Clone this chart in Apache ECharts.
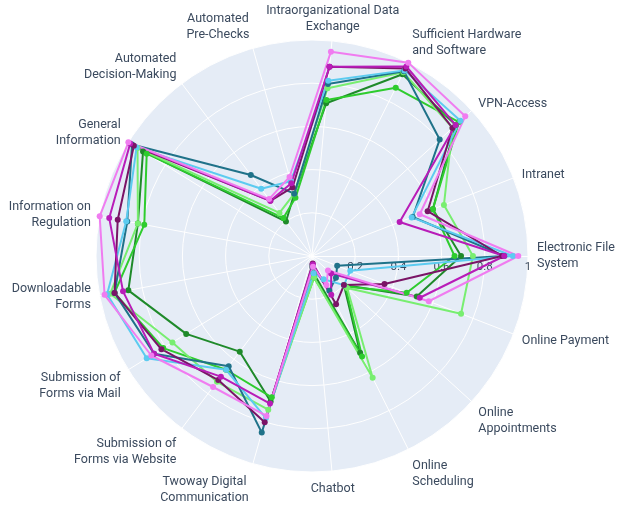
<!DOCTYPE html>
<html><head><meta charset="utf-8">
<script src="https://cdn.jsdelivr.net/npm/echarts@6/dist/echarts.min.js"></script>
<style>html,body{margin:0;padding:0;background:#fff}#c{width:624px;height:508px}</style>
</head><body><div id="c"></div>
<script>
const categories = [
  'Electronic File\nSystem', 'Intranet', 'VPN-Access', 'Sufficient Hardware\nand Software',
  'Intraorganizational Data\nExchange', 'Automated\nPre-Checks', 'Automated\nDecision-Making',
  'General\nInformation', 'Information on\nRegulation', 'Downloadable\nForms',
  'Submission of\nForms via Mail', 'Submission of\nForms via Website', 'Twoway Digital\nCommunication',
  'Chatbot', 'Online\nScheduling', 'Online\nAppointments', 'Online Payment'
];
const radialTicks = [0, 0.2, 0.4, 0.6, 0.8, 1];

const darkGreen  = [0.69, 0.60, 0.90, 0.94, 0.71, 0.30, 0.20, 0.92, 0.82, 0.865, 0.685, 0.555, 0.70, 0.08, 0.50, 0.20, 0.52];
const limeGreen  = [0.66, 0.60, 0.92, 0.87, 0.725, 0.28, 0.22, 0.90, 0.79, 0.93, 0.81, 0.66, 0.68, 0.10, 0.52, 0.21, 0.47];
const lightGreen = [0.745, 0.655, 0.88, 0.95, 0.78, 0.30, 0.25, 0.95, 0.82, 0.95, 0.76, 0.73, 0.74, 0.10, 0.63, 0.22, 0.74];
const teal       = [0.89, 0.50, 0.80, 0.955, 0.80, 0.30, 0.47, 0.98, 0.87, 0.93, 0.86, 0.64, 0.85, 0.05, 0.18, 0.15, 0.125];
const skyBlue    = [0.93, 0.495, 0.93, 0.96, 0.815, 0.36, 0.39, 0.955, 0.875, 0.965, 0.90, 0.66, 0.78, 0.08, 0.12, 0.20, 0.19];
const darkPurple = [0.88, 0.574, 0.88, 0.97, 0.88, 0.33, 0.32, 0.97, 0.915, 0.93, 0.82, 0.72, 0.80, 0.035, 0.25, 0.20, 0.36];
const magenta    = [0.89, 0.435, 0.90, 0.98, 0.88, 0.35, 0.32, 0.99, 0.955, 0.89, 0.86, 0.70, 0.71, 0.04, 0.20, 0.12, 0.535];
const violet     = [0.955, 0.535, 0.96, 1.00, 0.95, 0.38, 0.33, 1.00, 1.00, 0.977, 0.875, 0.76, 0.77, 0.05, 0.15, 0.10, 0.58];

const seriesList = [
  ['Dark green', darkGreen, '#1f8a2a'],
  ['Green', limeGreen, '#2ecc2e'],
  ['Light green', lightGreen, '#78ee70'],
  ['Teal', teal, '#1f7289'],
  ['Sky blue', skyBlue, '#5ccbf0'],
  ['Dark purple', darkPurple, '#7a1466'],
  ['Magenta', magenta, '#b81cb8'],
  ['Violet', violet, '#f07cf0']
];

// label nudges to mimic the reference layout [top, right, bottom, left]
const labelPads = [
  [0,0,0,0], [0,0,-8,0], [0,0,-7,0], [0,0,-4,0], [0,0,-3,0], [0,65,-3,0], [0,0,-6,0],
  [0,0,-11,0], [-2,0,0,0], [8,0,0,0], [-5,0,0,0], [0,0,0,0], [1,92,0,0], [1,0,0,0],
  [0,0,0,0], [-3,0,0,0], [-4,0,0,0]
];

const FONT = 'Roboto';
const TXT = '#3b4a5e';
const C = [312, 256], R = 216;

const chart = echarts.init(document.getElementById('c'));
chart.setOption({
  backgroundColor: '#ffffff',
  animation: false,
  radar: {
    center: C, radius: R, startAngle: 0, shape: 'circle', splitNumber: 5,
    indicator: categories.map(c => ({ name: c, min: 0, max: 1 })),
    axisName: { show: false },
    splitArea: { areaStyle: { color: ['#e5ecf6'] } },
    splitLine: { lineStyle: { color: '#ffffff', width: 1 } },
    axisLine: { lineStyle: { color: '#ffffff', width: 1 } },
    axisTick: { show: false }
  },
  polar: { center: C, radius: R },
  angleAxis: {
    type: 'category', startAngle: 0, clockwise: false, boundaryGap: false,
    data: categories.map((c, i) => ({ value: c, textStyle: { padding: labelPads[i] } })),
    axisLine: { show: false }, axisTick: { show: false }, splitLine: { show: false },
    axisLabel: { interval: 0, margin: 9, color: TXT, fontSize: 12.5, lineHeight: 16, fontFamily: FONT }
  },
  radiusAxis: {
    type: 'value', min: 0, max: 1, interval: 0.2,
    axisLine: { show: false }, axisTick: { show: false }, splitLine: { show: false },
    axisLabel: { margin: -17, color: TXT, fontSize: 11.5, fontFamily: FONT,
      formatter: v => String(radialTicks[Math.round(v * 5)]) }
  },
  series: seriesList.map(([name, vals, color]) => ({
    type: 'radar', name,
    symbol: 'circle', symbolSize: 6,
    lineStyle: { color, width: 2 },
    itemStyle: { color },
    data: [{ value: vals, name }]
  }))
});
</script>
</body></html>
